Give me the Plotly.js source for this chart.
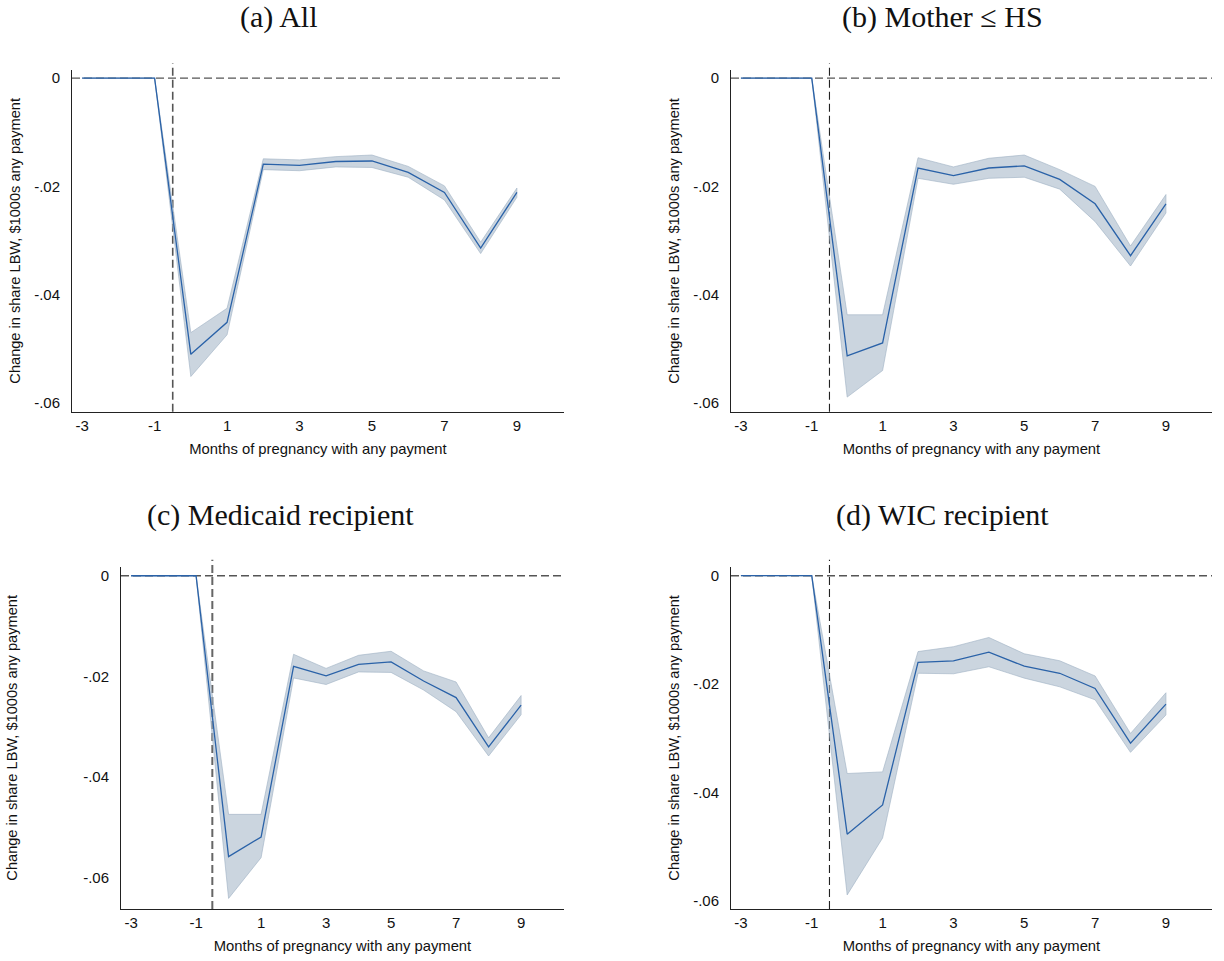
<!DOCTYPE html>
<html>
<head>
<meta charset="utf-8">
<script src="https://cdn.plot.ly/plotly-3.0.1.min.js"></script>
<style>html,body{margin:0;padding:0;background:#fff;}#chart{width:1224px;height:961px;}</style>
</head>
<body>
<div id="chart"></div>
<script>
// Months of pregnancy with any payment
var months = [-3, -2, -1, 0, 1, 2, 3, 4, 5, 6, 7, 8, 9];

// (a) All
var estAll   = [0, 0, 0, -0.0510, -0.0451, -0.0159, -0.0161, -0.0154, -0.0153, -0.0174, -0.0211, -0.0314, -0.0211];
var upAll    = [0, 0, 0, -0.0470, -0.0425, -0.0149, -0.0151, -0.0145, -0.0142, -0.0163, -0.0199, -0.0303, -0.0203];
var loAll    = [0, 0, 0, -0.0551, -0.0474, -0.0169, -0.0171, -0.0164, -0.0165, -0.0183, -0.0225, -0.0324, -0.0220];

// (b) Mother <= HS
var estHS    = [0, 0, 0, -0.0513, -0.0489, -0.0166, -0.0180, -0.0166, -0.0162, -0.0187, -0.0232, -0.0328, -0.0232];
var upHS     = [0, 0, 0, -0.0437, -0.0437, -0.0147, -0.0164, -0.0148, -0.0142, -0.0169, -0.0200, -0.0310, -0.0215];
var loHS     = [0, 0, 0, -0.0589, -0.0540, -0.0185, -0.0196, -0.0185, -0.0183, -0.0205, -0.0265, -0.0347, -0.0249];

// (c) Medicaid recipient
var estMed   = [0, 0, 0, -0.0558, -0.0519, -0.0180, -0.0199, -0.0176, -0.0171, -0.0209, -0.0242, -0.0340, -0.0257];
var upMed    = [0, 0, 0, -0.0474, -0.0474, -0.0156, -0.0184, -0.0158, -0.0150, -0.0189, -0.0211, -0.0322, -0.0238];
var loMed    = [0, 0, 0, -0.0641, -0.0560, -0.0203, -0.0216, -0.0191, -0.0192, -0.0227, -0.0270, -0.0358, -0.0276];

// (d) WIC recipient
var estWIC   = [0, 0, 0, -0.0477, -0.0423, -0.0160, -0.0157, -0.0141, -0.0167, -0.0180, -0.0208, -0.0309, -0.0237];
var upWIC    = [0, 0, 0, -0.0365, -0.0362, -0.0140, -0.0131, -0.0114, -0.0144, -0.0157, -0.0185, -0.0291, -0.0216];
var loWIC    = [0, 0, 0, -0.0589, -0.0484, -0.0180, -0.0181, -0.0168, -0.0189, -0.0205, -0.0229, -0.0326, -0.0257];

var panelTitles = ['(a) All', '(b) Mother \u2264 HS', '(c) Medicaid recipient', '(d) WIC recipient'];
var xTickVals = [-3, -1, 1, 3, 5, 7, 9];
var xTickText = ['-3', '-1', '1', '3', '5', '7', '9'];
var yTickVals = [0, -0.02, -0.04, -0.06];
var yTickText = ['0', '-.02', '-.04', '-.06'];
var xTitle = 'Months of pregnancy with any payment';
var yTitle = 'Change in share LBW, $1000s any payment';
var eventMonth = -0.5;

var series = [
  {est: estAll, up: upAll, lo: loAll},
  {est: estHS,  up: upHS,  lo: loHS},
  {est: estMed, up: upMed, lo: loMed},
  {est: estWIC, up: upWIC, lo: loWIC}
];

var W = 1224, H = 961;
// pixel boxes for each plot area: [left, right, top, bottom]
var boxes = [
  [72, 564, 70, 411.7],
  [731, 1212, 70, 411.7],
  [121, 564, 566.7, 909],
  [731, 1212, 566.7, 909]
];
var xRanges = [[-3.28, 10.3], [-3.28, 10.3], [-3.31, 10.32], [-3.28, 10.3]];
var yRanges = [[-0.0616, 0.0015], [-0.0616, 0.0015], [-0.0662, 0.0018], [-0.0615, 0.00166]];
var yStandoff = [10, 10, 62, 10];
var vlineWidth = [1.6, 1.1, 2, 1.1];
var vlineColor = ['#555555', '#222222', '#666666', '#222222'];
var titlePos = [[278, 17], [942, 17], [280, 515], [942, 515]];

var lineColor = '#2a62a8';
var bandFill = 'rgba(160,178,196,0.55)';
var bandEdge = '#9eb0c2';
var axisColor = '#222222';
var dashColor = '#555555';

var traces = [];
var layout = {
  width: W, height: H,
  margin: {l: 0, r: 0, t: 0, b: 0},
  paper_bgcolor: '#ffffff',
  plot_bgcolor: '#ffffff',
  showlegend: false,
  font: {family: 'Liberation Sans, Arial, sans-serif', size: 15, color: '#111'},
  shapes: [],
  annotations: []
};

series.forEach(function (s, i) {
  var n = i + 1;
  var xa = n === 1 ? 'x' : 'x' + n;
  var ya = n === 1 ? 'y' : 'y' + n;
  var xaKey = n === 1 ? 'xaxis' : 'xaxis' + n;
  var yaKey = n === 1 ? 'yaxis' : 'yaxis' + n;
  var b = boxes[i];

  // CI band as closed polygon
  var bx = months.concat(months.slice().reverse());
  var by = s.up.concat(s.lo.slice().reverse());
  traces.push({
    x: bx, y: by, xaxis: xa, yaxis: ya,
    type: 'scatter', mode: 'lines', fill: 'toself',
    fillcolor: bandFill,
    line: {color: bandEdge, width: 0.6},
    hoverinfo: 'skip'
  });
  traces.push({
    x: months, y: s.est, xaxis: xa, yaxis: ya,
    type: 'scatter', mode: 'lines',
    line: {color: lineColor, width: 1.3}
  });

  layout[xaKey] = {
    domain: [b[0] / W, b[1] / W],
    anchor: ya,
    range: xRanges[i],
    tickmode: 'array', tickvals: xTickVals, ticktext: xTickText,
    ticks: '', showgrid: false, zeroline: false,
    showline: true, linecolor: axisColor, linewidth: 1,
    ticklabelstandoff: 0,
    tickfont: {size: 15, color: '#111'},
    title: {text: xTitle, font: {size: 14.8, color: '#111'}, standoff: 10}
  };
  layout[yaKey] = {
    domain: [1 - b[3] / H, 1 - b[2] / H],
    anchor: xa,
    range: yRanges[i],
    tickmode: 'array', tickvals: yTickVals, ticktext: yTickText,
    ticks: '', showgrid: false, zeroline: false,
    showline: true, linecolor: axisColor, linewidth: 1,
    ticklabelstandoff: 8,
    tickfont: {size: 15, color: '#111'},
    title: {text: yTitle, font: {size: 14.6, color: '#111'}, standoff: yStandoff[i]}
  };

  // dashed reference lines
  layout.shapes.push({
    type: 'line', xref: xa, yref: ya,
    x0: xRanges[i][0], x1: xRanges[i][1], y0: 0, y1: 0,
    line: {color: dashColor, width: 1.4, dash: '8px,4px'}, layer: 'below'
  });
  layout.shapes.push({
    type: 'line', xref: xa, yref: ya + ' domain',
    x0: eventMonth, x1: eventMonth, y0: 0, y1: 1.02,
    line: {color: vlineColor[i], width: vlineWidth[i], dash: '8px,4px'}, layer: 'below'
  });

  layout.annotations.push({
    text: panelTitles[i], xref: 'paper', yref: 'paper',
    x: titlePos[i][0] / W, y: 1 - titlePos[i][1] / H,
    xanchor: 'center', yanchor: 'middle', showarrow: false,
    font: {family: 'Liberation Serif, DejaVu Serif, serif', size: 30, color: '#111'}
  });
});

Plotly.newPlot('chart', traces, layout, {staticPlot: true, displayModeBar: false});
</script>
</body>
</html>
